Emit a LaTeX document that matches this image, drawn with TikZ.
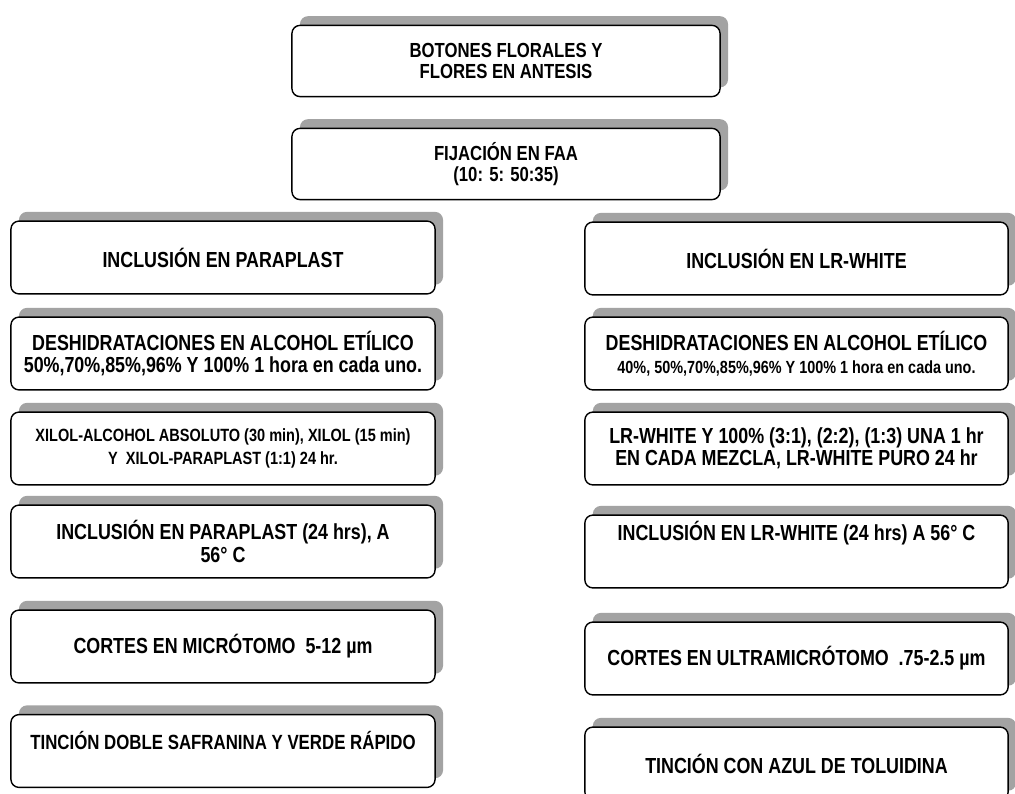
\documentclass[tikz,border=0pt]{standalone}
\usepackage{fontspec}
\setmainfont{Liberation Sans}[FakeStretch=0.82]
\usetikzlibrary{shadows}

\begin{document}
\begin{tikzpicture}[x=0.025cm, y=-0.025cm,
  caja/.style={draw, line width=1pt, rounded corners=0.2cm, fill=white, align=center,
    inner sep=2pt,
    drop shadow={shadow xshift=0.2cm, shadow yshift=0.23cm, fill=gray!72, opacity=1},
    font=\bfseries\fontsize{15.5}{16}\selectfont},
  cajasup/.style={caja, minimum width=10.7cm, minimum height=1.78cm, font=\bfseries\fontsize{14.5}{15.5}\selectfont},
  cajaizq/.style={caja, minimum width=10.6cm, minimum height=1.82cm},
  cajader/.style={caja, minimum width=10.58cm, minimum height=1.82cm}]
      \useasboundingbox (0,0) rectangle (1015,794);

      % Muestra y fijacion
      \node[cajasup] (botones) at (506,61) {BOTONES FLORALES Y\\FLORES EN ANTESIS};
      \node[cajasup] (fijacion) at (506,164) {FIJACIÓN EN FAA\\(10: 5: 50:35)};

      % Columna izquierda: Paraplast
      \node[cajaizq] (paraplast) at (223,257.5) {INCLUSIÓN EN PARAPLAST};
      \node[cajaizq] (deshizq) at (223,353.5) {DESHIDRATACIONES EN ALCOHOL ETÍLICO\\50\%,70\%,85\%,96\% Y 100\% 1 hora en cada uno.};
      \node[cajaizq, font=\bfseries\fontsize{12.6}{16}\selectfont] (xilol) at (223,448.5) {XILOL-ALCOHOL ABSOLUTO (30 min), XILOL (15 min)\\Y \ XILOL-PARAPLAST (1:1) 24 hr.};
      \node[cajaizq] (inclizq) at (223,541.5) {INCLUSIÓN EN PARAPLAST (24 hrs), A\hspace{14pt}\\56° C\hspace{20pt}};
      \node[cajaizq] (cortesizq) at (223,646.5) {CORTES EN MICRÓTOMO \ 5-12 µm};
      \node[cajaizq, font=\bfseries\fontsize{14.6}{16}\selectfont] (tincionizq) at (223,751) {TINCIÓN DOBLE SAFRANINA Y VERDE RÁPIDO\\[-6pt]\strut};

      % Columna derecha: LR-White
      \node[cajader] (lrwhite) at (796.5,258.5) {INCLUSIÓN EN LR-WHITE};
      \node[cajader] (deshder) at (796.5,353.5) {DESHIDRATACIONES EN ALCOHOL ETÍLICO\\{\fontsize{12.5}{15}\selectfont 40\%, 50\%,70\%,85\%,96\% Y 100\% 1 hora en cada uno.}};
      \node[cajader] (mezcla) at (796.5,448.5) {LR-WHITE Y 100\% (3:1), (2:2), (1:3) UNA 1 hr\\EN CADA MEZCLA, LR-WHITE PURO 24 hr};
      \node[cajader] (inclder) at (796.5,551.5) {INCLUSIÓN EN LR-WHITE (24 hrs) A 56° C\\[8pt]\strut};
      \node[cajader] (cortesder) at (796.5,658.5) {CORTES EN ULTRAMICRÓTOMO \ .75-2.5 µm};
      \node[cajader] (tincionder) at (796.5,763.5) {TINCIÓN CON AZUL DE TOLUIDINA};

    \end{tikzpicture}
\end{document}
